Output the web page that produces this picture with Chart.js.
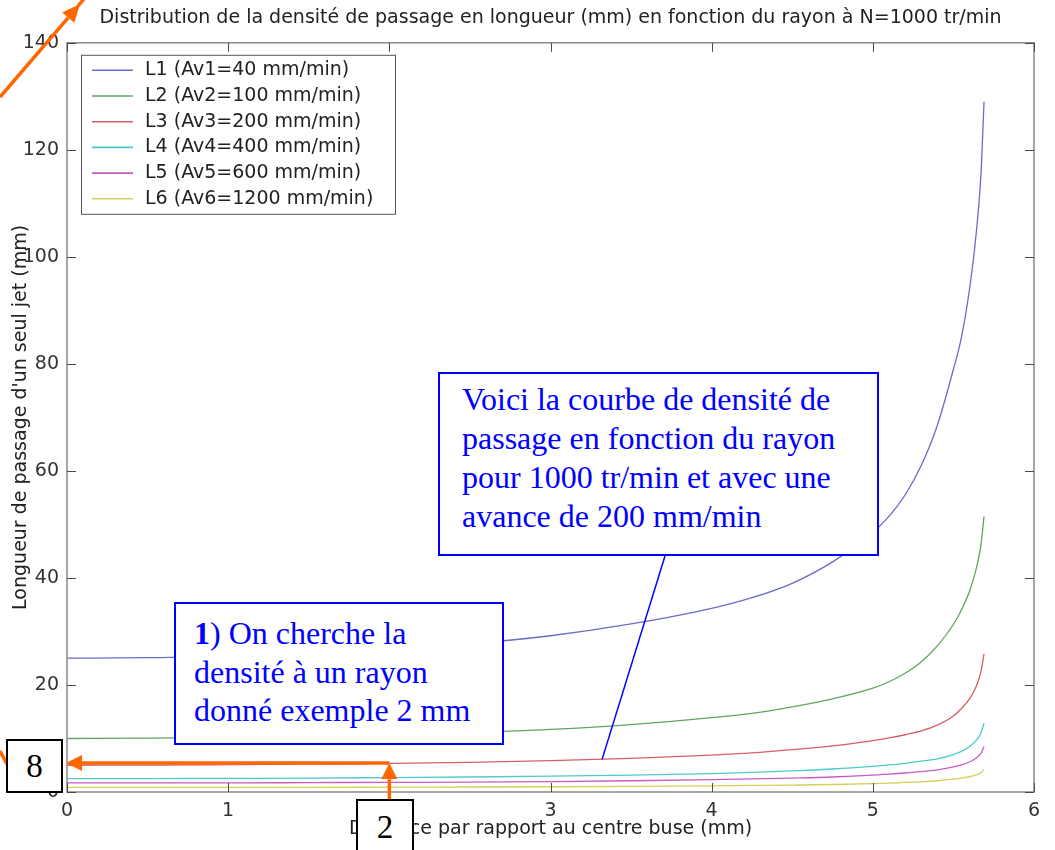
<!DOCTYPE html>
<html lang="fr">
<head>
<meta charset="utf-8">
<title>Densité de passage en fonction du rayon</title>
<script src="https://cdn.jsdelivr.net/npm/chart.js@4.4.1/dist/chart.umd.min.js"></script>
<style>
  html, body { margin: 0; padding: 0; background: #fff; overflow: hidden; }
  #wrap { position: relative; width: 1055px; height: 850px; overflow: hidden; }
  #chart { position: absolute; left: 0; top: 0; }
  .note {
    position: absolute; box-sizing: border-box; background: #fff;
    border: 2px solid #0000ff; color: #0000ff;
    font-family: "Liberation Serif", "Times New Roman", serif; font-size: 32px;
    white-space: nowrap;
  }
  .tag {
    position: absolute; box-sizing: border-box; background: #fff;
    border: 2px solid #000; color: #000; text-align: center;
    font-family: "Liberation Serif", "Times New Roman", serif; font-size: 33px;
  }
</style>
</head>
<body>
<div id="wrap">
  <canvas id="chart" width="1055" height="850"></canvas>
  <div class="note" style="left:438px; top:372px; width:441px; height:184px; padding:6px 0 0 22px; line-height:39px;">Voici la courbe de densité de<br>passage en fonction du rayon<br>pour 1000 tr/min et avec une<br>avance de 200 mm/min</div>
  <div class="note" style="left:174px; top:602px; width:330px; height:143px; padding:10px 0 0 18px; line-height:38.5px;"><b>1</b>) On cherche la<br>densité à un rayon<br>donné exemple 2 mm</div>
  <div class="tag" style="left:6px; top:739px; width:57px; height:54px; line-height:50px;">8</div>
  <div class="tag" style="left:356px; top:799px; width:58px; height:70px; line-height:52px;">2</div>
</div>
<script>
// rayon (mm), commun a toutes les courbes
const radius = [0, 0.5, 1, 1.5, 2, 2.5, 3, 3.5, 4, 4.25, 4.5, 4.75, 5, 5.1, 5.2, 5.3, 5.4, 5.5, 5.55, 5.6, 5.64, 5.67, 5.69];

// longueur de passage (mm)
const lenL1 = [25.0, 25.1, 25.4, 26.0, 26.7, 27.7, 29.2, 31.4, 34.3, 36.3, 39.0, 43.0, 48.5, 51.5, 55.5, 61.0, 68.5, 79.0, 85.0, 94.0, 104.0, 115.0, 129.0];
const lenL2 = [10.0, 10.05, 10.2, 10.4, 10.7, 11.1, 11.7, 12.6, 13.9, 14.7, 15.9, 17.4, 19.4, 20.6, 22.2, 24.3, 27.3, 31.3, 34.0, 37.5, 41.5, 46.0, 51.5];
const lenL3 = [5.0, 5.02, 5.1, 5.2, 5.35, 5.55, 5.85, 6.3, 6.9, 7.3, 7.9, 8.6, 9.6, 10.1, 10.7, 11.4, 12.5, 14.2, 15.6, 17.4, 19.6, 22.4, 25.8];
const lenL4 = [2.5, 2.5, 2.55, 2.6, 2.7, 2.8, 2.95, 3.15, 3.45, 3.65, 3.95, 4.3, 4.8, 5.05, 5.35, 5.75, 6.2, 7.0, 7.6, 8.5, 9.6, 11.0, 12.9];
const lenL5 = [1.7, 1.7, 1.7, 1.75, 1.8, 1.85, 1.95, 2.1, 2.3, 2.45, 2.6, 2.8, 3.15, 3.35, 3.55, 3.8, 4.15, 4.7, 5.05, 5.6, 6.3, 7.2, 8.5];
const lenL6 = [0.85, 0.85, 0.85, 0.87, 0.9, 0.93, 0.98, 1.05, 1.15, 1.22, 1.3, 1.4, 1.55, 1.65, 1.78, 1.9, 2.1, 2.4, 2.6, 2.85, 3.2, 3.6, 4.2];

const seriesLabels = ["L1 (Av1=40 mm/min)", "L2 (Av2=100 mm/min)", "L3 (Av3=200 mm/min)",
                      "L4 (Av4=400 mm/min)", "L5 (Av5=600 mm/min)", "L6 (Av6=1200 mm/min)"];
const seriesColors = ["#6b6bc9", "#5fa55f", "#d65f63", "#4dcaca", "#c75cc7", "#d2d25a"];
const allLengths = [lenL1, lenL2, lenL3, lenL4, lenL5, lenL6];

// annotation : le point lu a r = 2 mm sur L3
const pickR = 2;
const pickL = 5.4;
// bout du trait bleu sur la courbe L3
const noteR = 3.32;
const noteL = 6.1;

const FONT = '"DejaVu Sans", "Liberation Sans", Arial, sans-serif';

function toPoints(ys) {
  return radius.map((r, i) => ({ x: r, y: ys[i] }));
}

// cadre facon matlab, graduations vers l'interieur
const framePlugin = {
  id: 'frame',
  afterDatasetsDraw(chart) {
    const { ctx, chartArea: a, scales: { x, y } } = chart;
    ctx.save();
    ctx.strokeStyle = '#8a8a8a';
    ctx.lineWidth = 1.5;
    ctx.strokeRect(a.left, a.top, a.right - a.left, a.bottom - a.top);
    ctx.strokeStyle = '#4a4a4a';
    ctx.lineWidth = 1;
    ctx.beginPath();
    x.ticks.forEach(t => {
      const px = Math.round(x.getPixelForValue(t.value)) + 0.5;
      ctx.moveTo(px, a.bottom); ctx.lineTo(px, a.bottom - 9);
      ctx.moveTo(px, a.top); ctx.lineTo(px, a.top + 9);
    });
    y.ticks.forEach(t => {
      const py = Math.round(y.getPixelForValue(t.value)) + 0.5;
      ctx.moveTo(a.left, py); ctx.lineTo(a.left + 9, py);
      ctx.moveTo(a.right, py); ctx.lineTo(a.right - 9, py);
    });
    ctx.stroke();
    ctx.restore();
  }
};

// legende encadree dans le coin haut gauche
const boxLegend = {
  id: 'boxLegend',
  afterDatasetsDraw(chart) {
    const { ctx, chartArea: a } = chart;
    const bx = a.left + 14, by = a.top + 12, bw = 314, bh = 159;
    ctx.save();
    ctx.fillStyle = '#fff';
    ctx.fillRect(bx, by, bw, bh);
    ctx.strokeStyle = '#555';
    ctx.lineWidth = 1;
    ctx.strokeRect(bx + 0.5, by + 0.5, bw, bh);
    ctx.font = '19px ' + FONT;
    ctx.textBaseline = 'middle';
    chart.data.datasets.forEach((ds, i) => {
      const ry = by + 15.5 + i * 25.7;
      ctx.strokeStyle = ds.borderColor;
      ctx.lineWidth = 1.6;
      ctx.beginPath();
      ctx.moveTo(bx + 11, ry); ctx.lineTo(bx + 52, ry);
      ctx.stroke();
      ctx.fillStyle = '#222';
      ctx.fillText(ds.label, bx + 64, ry);
    });
    ctx.restore();
  }
};

function arrow(ctx, x0, y0, x1, y1, len, half) {
  const ang = Math.atan2(y1 - y0, x1 - x0);
  const bx = x1 - len * Math.cos(ang), by = y1 - len * Math.sin(ang);
  ctx.beginPath();
  ctx.moveTo(x0, y0); ctx.lineTo(bx, by);
  ctx.stroke();
  ctx.beginPath();
  ctx.moveTo(x1, y1);
  ctx.lineTo(bx + half * Math.sin(ang), by - half * Math.cos(ang));
  ctx.lineTo(bx - half * Math.sin(ang), by + half * Math.cos(ang));
  ctx.closePath();
  ctx.fill();
}

// fleches oranges et trait bleu ajoutes sur la figure
const notesPlugin = {
  id: 'notes',
  afterDraw(chart) {
    const { ctx, chartArea: a, scales: { x, y } } = chart;
    const px = x.getPixelForValue(pickR);
    const py = y.getPixelForValue(pickL);
    ctx.save();
    ctx.strokeStyle = '#ff6600';
    ctx.fillStyle = '#ff6600';
    ctx.lineWidth = 3.5;
    arrow(ctx, px, a.bottom + 10, px, py, 16, 8);
    arrow(ctx, px, py, a.left - 1, py, 16, 8);
    arrow(ctx, 0, 97, 80, 4, 18, 8);
    ctx.beginPath();
    ctx.moveTo(78, 6); ctx.lineTo(88, -6);
    ctx.moveTo(7, 764); ctx.lineTo(0, 751);
    ctx.stroke();
    ctx.strokeStyle = '#0000ff';
    ctx.lineWidth = 1.5;
    ctx.beginPath();
    ctx.moveTo(665, 556);
    ctx.lineTo(x.getPixelForValue(noteR), y.getPixelForValue(noteL));
    ctx.stroke();
    ctx.restore();
  }
};

const datasets = allLengths.map((ys, i) => ({
  label: seriesLabels[i],
  data: toPoints(ys),
  borderColor: seriesColors[i],
  borderWidth: 1.3,
  pointRadius: 0,
  fill: false,
  cubicInterpolationMode: 'monotone'
}));

new Chart(document.getElementById('chart'), {
  type: 'line',
  data: { datasets },
  options: {
    responsive: false,
    devicePixelRatio: 1,
    animation: false,
    layout: { padding: { left: 0, right: 21, top: 0, bottom: 0 } },
    plugins: {
      legend: { display: false },
      tooltip: { enabled: false },
      title: {
        display: true,
        fullSize: false,
        text: 'Distribution de la densité de passage en longueur (mm) en fonction du rayon à N=1000 tr/min',
        color: '#222',
        font: { family: FONT, size: 19, weight: 'normal' },
        padding: { top: 7, bottom: 13 }
      }
    },
    scales: {
      x: {
        type: 'linear',
        min: 0, max: 6,
        grid: { display: false, drawTicks: false },
        border: { display: false },
        ticks: { stepSize: 1, padding: 8, maxRotation: 0, color: '#333', font: { family: FONT, size: 19 } },
        title: {
          display: true,
          text: 'Distance par rapport au centre buse (mm)',
          color: '#222',
          font: { family: FONT, size: 19 },
          padding: { top: 0, bottom: 10 }
        },
        afterFit(s) { s.height = 58; }
      },
      y: {
        min: 0, max: 140,
        grid: { display: false, drawTicks: false },
        border: { display: false },
        ticks: { stepSize: 20, padding: 8, color: '#333', font: { family: FONT, size: 19 } },
        title: {
          display: true,
          text: "Longueur de passage d'un seul jet (mm)",
          color: '#222',
          font: { family: FONT, size: 19 },
          padding: { top: 10, bottom: 0 }
        },
        afterFit(s) { s.width = 67; }
      }
    }
  },
  plugins: [framePlugin, boxLegend, notesPlugin]
});
</script>
</body>
</html>
